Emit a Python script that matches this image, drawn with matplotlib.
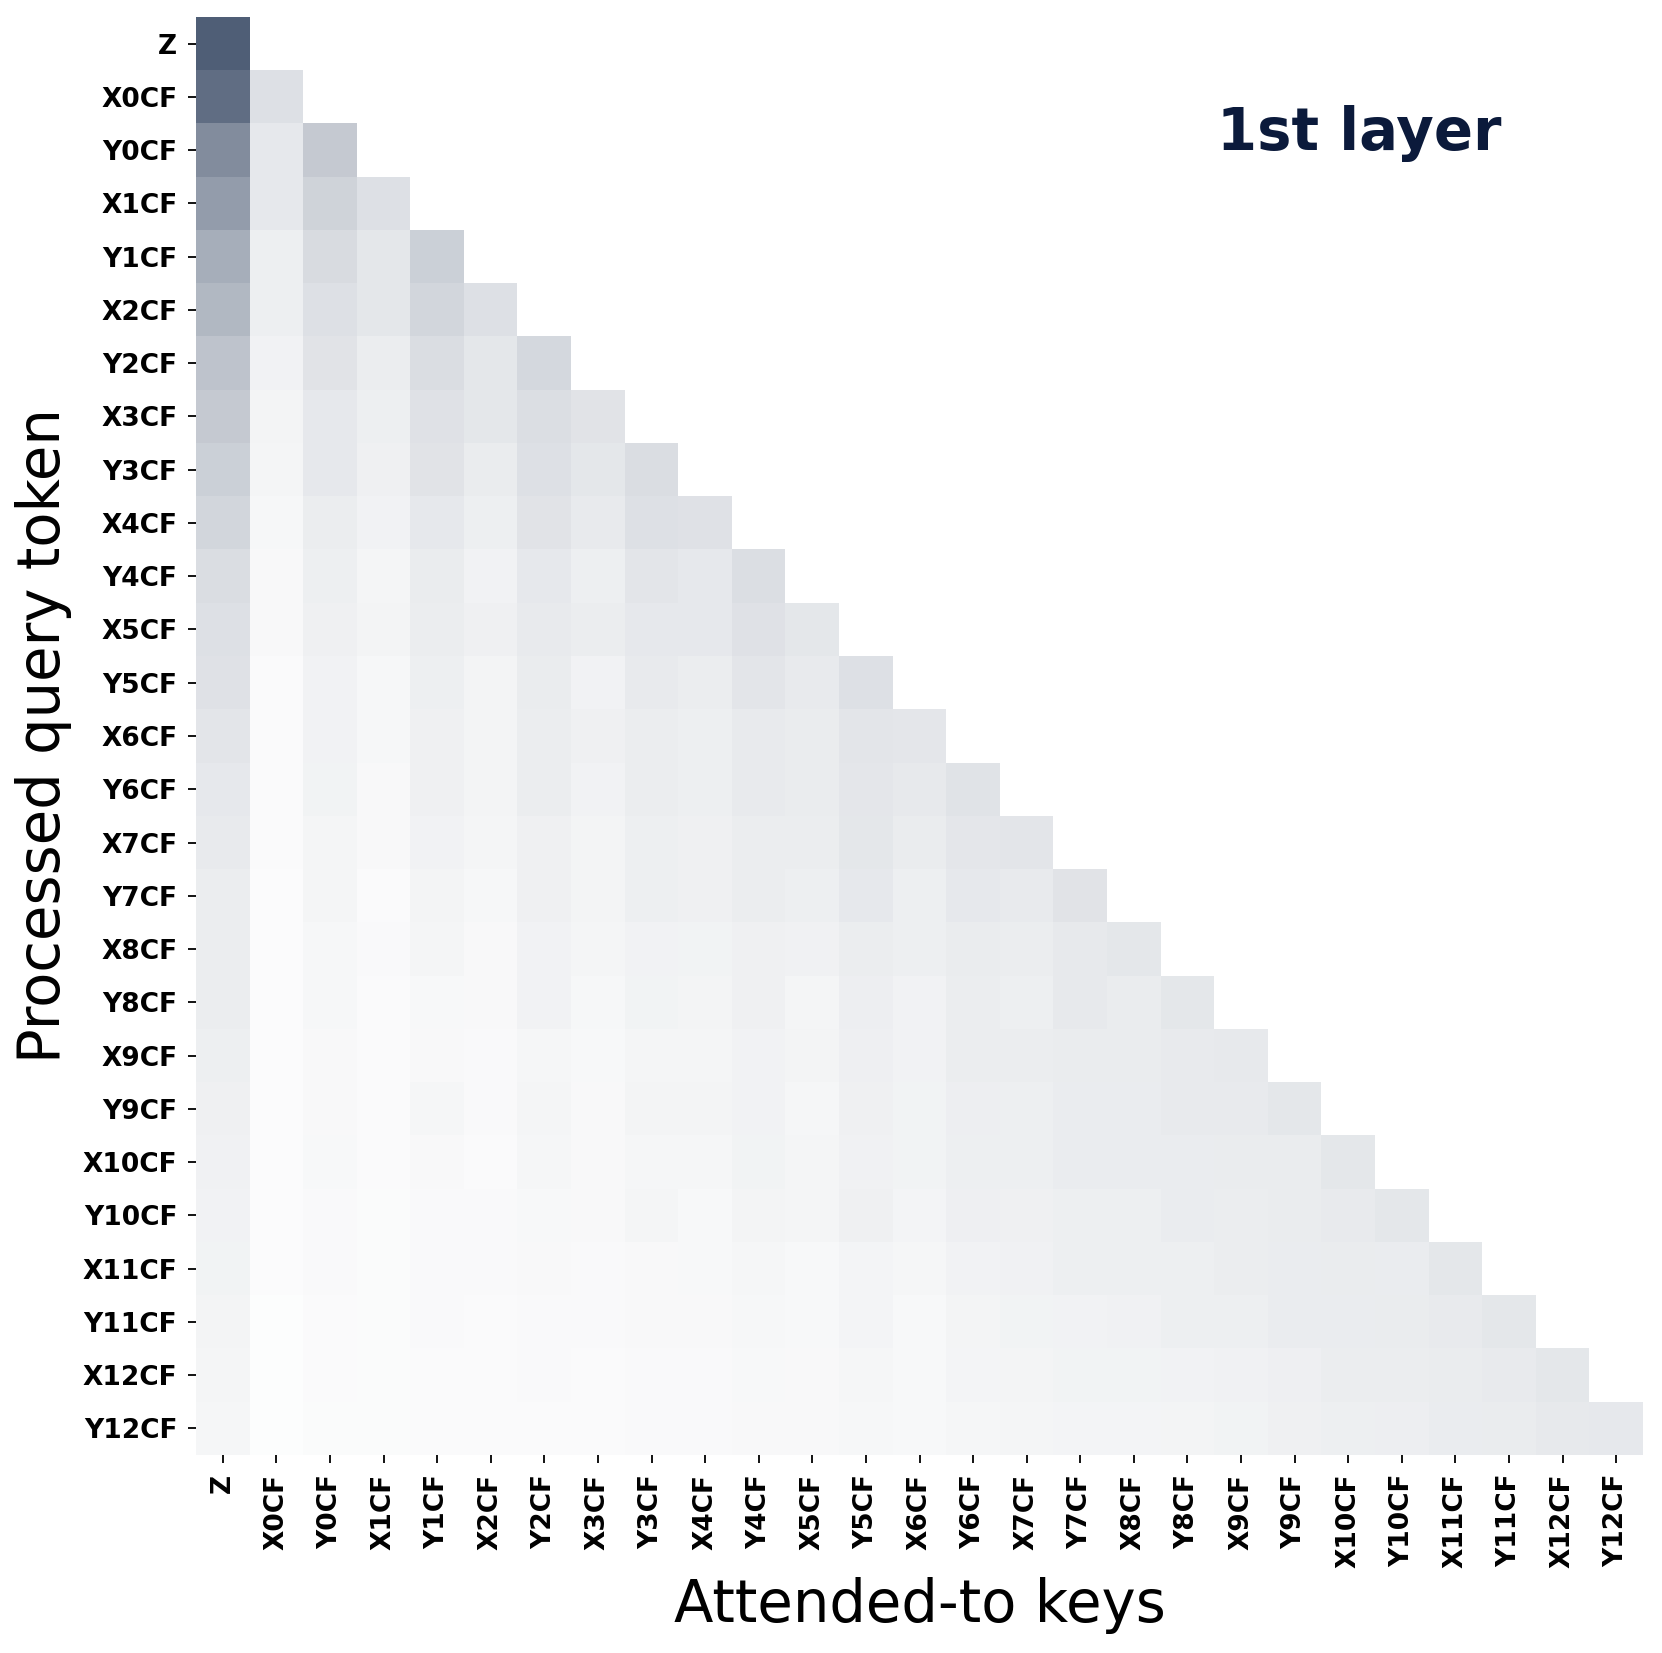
import numpy as np
import matplotlib
matplotlib.use("Agg")
import matplotlib.pyplot as plt
from matplotlib.colors import LinearSegmentedColormap

tokens = ["Z", "X0CF", "Y0CF", "X1CF", "Y1CF", "X2CF", "Y2CF", "X3CF", "Y3CF",
          "X4CF", "Y4CF", "X5CF", "Y5CF", "X6CF", "Y6CF", "X7CF", "Y7CF",
          "X8CF", "Y8CF", "X9CF", "Y9CF", "X10CF", "Y10CF", "X11CF", "Y11CF",
          "X12CF", "Y12CF"]

# attention weights of each query row over the keys it may attend to (causal)
attn_rows = [
    [1.00],
    [0.90, 0.19],
    [0.71, 0.14, 0.33],
    [0.61, 0.14, 0.27, 0.19],
    [0.50, 0.10, 0.22, 0.15, 0.29],
    [0.44, 0.10, 0.19, 0.15, 0.25, 0.19],
    [0.37, 0.08, 0.17, 0.11, 0.21, 0.15, 0.24],
    [0.33, 0.07, 0.14, 0.10, 0.18, 0.15, 0.20, 0.17],
    [0.29, 0.06, 0.14, 0.09, 0.17, 0.12, 0.19, 0.15, 0.21],
    [0.25, 0.05, 0.11, 0.08, 0.14, 0.10, 0.17, 0.13, 0.19, 0.18],
    [0.21, 0.04, 0.10, 0.06, 0.12, 0.08, 0.14, 0.10, 0.16, 0.14, 0.20],
    [0.19, 0.04, 0.09, 0.07, 0.11, 0.09, 0.13, 0.11, 0.14, 0.14, 0.18, 0.15],
    [0.18, 0.03, 0.08, 0.05, 0.10, 0.07, 0.12, 0.08, 0.13, 0.11, 0.16, 0.13, 0.19],
    [0.16, 0.03, 0.08, 0.05, 0.09, 0.07, 0.11, 0.09, 0.11, 0.10, 0.13, 0.12, 0.16, 0.155],
    [0.14, 0.03, 0.075, 0.04, 0.09, 0.07, 0.11, 0.08, 0.11, 0.10, 0.13, 0.12, 0.155, 0.135, 0.175],
    [0.13, 0.03, 0.06, 0.04, 0.08, 0.06, 0.09, 0.07, 0.10, 0.09, 0.11, 0.11, 0.15, 0.12, 0.155, 0.16],
    [0.11, 0.02, 0.06, 0.03, 0.07, 0.05, 0.09, 0.07, 0.10, 0.09, 0.11, 0.10, 0.14, 0.10, 0.14, 0.13, 0.17],
    [0.11, 0.02, 0.05, 0.035, 0.06, 0.04, 0.08, 0.06, 0.08, 0.075, 0.09, 0.085, 0.11, 0.10, 0.12, 0.11, 0.135, 0.15],
    [0.11, 0.02, 0.05, 0.03, 0.045, 0.04, 0.08, 0.05, 0.075, 0.07, 0.09, 0.06, 0.105, 0.08, 0.11, 0.10, 0.135, 0.12, 0.15],
    [0.10, 0.02, 0.04, 0.03, 0.04, 0.035, 0.055, 0.045, 0.06, 0.06, 0.08, 0.07, 0.095, 0.08, 0.11, 0.11, 0.12, 0.12, 0.13, 0.135],
    [0.09, 0.02, 0.04, 0.03, 0.055, 0.035, 0.06, 0.04, 0.07, 0.07, 0.08, 0.055, 0.09, 0.075, 0.105, 0.10, 0.115, 0.115, 0.125, 0.13, 0.15],
    [0.085, 0.02, 0.045, 0.03, 0.04, 0.03, 0.055, 0.04, 0.055, 0.055, 0.075, 0.06, 0.085, 0.075, 0.10, 0.10, 0.115, 0.115, 0.115, 0.12, 0.12, 0.15],
    [0.08, 0.02, 0.035, 0.025, 0.035, 0.035, 0.045, 0.04, 0.06, 0.045, 0.07, 0.06, 0.09, 0.065, 0.095, 0.09, 0.10, 0.10, 0.115, 0.11, 0.12, 0.13, 0.15],
    [0.075, 0.02, 0.035, 0.025, 0.035, 0.035, 0.04, 0.035, 0.04, 0.045, 0.055, 0.045, 0.065, 0.055, 0.08, 0.085, 0.10, 0.10, 0.10, 0.11, 0.115, 0.12, 0.115, 0.15],
    [0.07, 0.015, 0.03, 0.025, 0.035, 0.03, 0.035, 0.035, 0.04, 0.04, 0.05, 0.045, 0.065, 0.045, 0.07, 0.075, 0.08, 0.085, 0.10, 0.10, 0.115, 0.115, 0.12, 0.13, 0.15],
    [0.06, 0.015, 0.03, 0.025, 0.03, 0.03, 0.035, 0.03, 0.035, 0.035, 0.045, 0.04, 0.055, 0.045, 0.065, 0.07, 0.075, 0.075, 0.08, 0.085, 0.095, 0.11, 0.11, 0.12, 0.125, 0.15],
    [0.055, 0.015, 0.025, 0.025, 0.03, 0.03, 0.03, 0.03, 0.035, 0.035, 0.04, 0.04, 0.05, 0.045, 0.055, 0.06, 0.065, 0.065, 0.07, 0.075, 0.09, 0.10, 0.105, 0.115, 0.12, 0.135, 0.14],
]

title_text = "1st layer"
xlabel_text = "Attended-to keys"
ylabel_text = "Processed query token"

n = len(tokens)
M = np.full((n, n), np.nan)
for i, row in enumerate(attn_rows):
    M[i, :len(row)] = row
M = np.ma.masked_invalid(M)

cmap = LinearSegmentedColormap.from_list("slate", ["#ffffff", "#4f5e76"])
cmap.set_bad("white")

fig = plt.figure(figsize=(16.62, 16.53), dpi=100)
ax = fig.add_axes([196 / 1662, 1 - 1455 / 1653, 1447 / 1662, 1438 / 1653])
ax.imshow(M, cmap=cmap, vmin=0, vmax=1, aspect="auto", interpolation="nearest")

for s in ax.spines.values():
    s.set_visible(False)

ax.set_xticks(np.arange(n))
ax.set_yticks(np.arange(n))
ax.set_xticklabels(tokens, rotation=90, fontsize=19, fontweight="bold")
ax.set_yticklabels(tokens, fontsize=19, fontweight="bold")
ax.tick_params(axis="both", length=6, width=1.3, pad=7.5)

fig.text(1359.7 / 1662, 1 - 150 / 1653, title_text, fontsize=41.5, fontweight="bold",
         color="#0b1a3b", ha="center", va="baseline")
fig.text(919.5 / 1662, 1 - 1622 / 1653, xlabel_text, fontsize=41.5,
         ha="center", va="baseline")
fig.text(44 / 1662, 1 - 736 / 1653, ylabel_text, fontsize=41.5, rotation=90,
         ha="center", va="center")

fig.savefig("out.png", dpi=100, facecolor="white")
